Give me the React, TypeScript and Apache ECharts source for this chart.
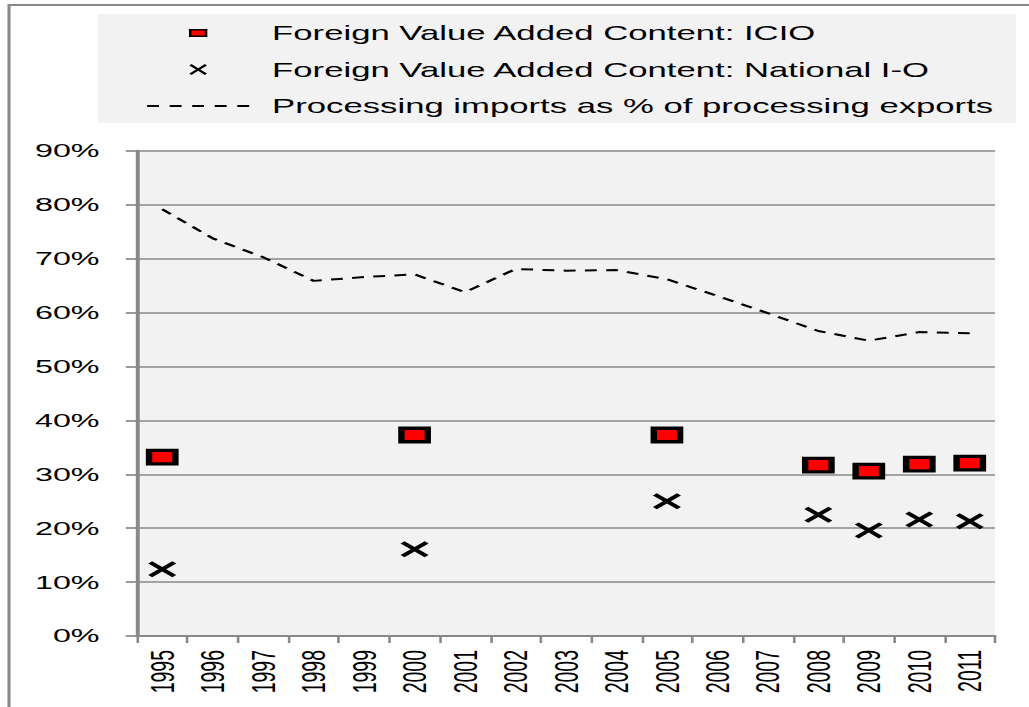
import React, { useEffect, useRef } from "react";
import * as echarts from "echarts";

const years = ["1995","1996","1997","1998","1999","2000","2001","2002","2003","2004","2005","2006","2007","2008","2009","2010","2011"];
const icioValues: (number | null)[] = [33.2, null, null, null, null, 37.3, null, null, null, null, 37.3, null, null, 31.7, 30.6, 31.9, 32.1];
const nationalValues: (number | null)[] = [12.4, null, null, null, null, 16.1, null, null, null, null, 25.0, null, null, 22.5, 19.6, 21.6, 21.3];
const processingValues: number[] = [79.2, 73.8, 70.3, 65.9, 66.6, 67.1, 63.8, 68.1, 67.8, 67.9, 66.2, 63.1, 59.9, 56.6, 54.8, 56.4, 56.2];
const seriesNames = [
  "Foreign Value Added Content: ICIO",
  "Foreign Value Added Content: National I-O",
  "Processing imports as % of processing exports",
];

const BASE_W = 605;
const H = 707;
const K = 1029 / BASE_W;
const FONT = "'Liberation Sans', Arial, sans-serif";

const CROSS = "path://M0,14 L14,0 L50,36 L86,0 L100,14 L64,50 L100,86 L86,100 L50,64 L14,100 L0,86 L36,50 Z";
const CROSS_LEG = "path://M0,14 L12,0 L50,42 L88,0 L100,14 L62,53 L100,92 L88,106 L50,64 L12,106 L0,92 L38,53 Z";
const SQUARE_LEG = "path://M4.5,0 M0,2.2 L9.3,2.2 L9.3,8.8 L0,8.8 Z M4.5,11";
const DASH_LEG = "path://M0,0h7v2h-7z M13.25,0h7v2h-7z M26.5,0h7v2h-7z M39.75,0h7v2h-7z M53,0h7v2h-7z";

const toPairs = (vals: (number | null)[]) =>
  vals.map((v, i) => (v == null ? null : [years[i], v])).filter((d) => d !== null);

export default function App() {
  const ref = useRef<HTMLDivElement>(null);
  useEffect(() => {
    if (!ref.current) return;
    const chart = echarts.init(ref.current, undefined, { renderer: "svg" });
    const grey = "#888888";
    chart.setOption({
      animation: false,
      backgroundColor: "#ffffff",
      textStyle: { fontFamily: FONT },
      graphic: [
        {
          type: "rect",
          z: -10,
          shape: { x: 5.3, y: 5, width: 800, height: 900 },
          style: { fill: "none", stroke: grey, lineWidth: 1.8 },
          silent: true,
        },
        {
          type: "rect",
          z: -5,
          shape: { x: 57.6, y: 14, width: 539.8, height: 109 },
          style: { fill: "#f2f2f2" },
          silent: true,
        },
      ],
      legend: {
        orient: "vertical",
        left: 86.5,
        top: 23,
        padding: 0,
        itemWidth: 60,
        itemHeight: 11,
        itemGap: 16.5,
        symbolKeepAspect: true,
        selectedMode: false,
        textStyle: {
          fontFamily: FONT,
          fontSize: 20.4,
          color: "#000",
          lineHeight: 20,
          padding: [0, 0, 0, 8.5],
        },
        data: [
          { name: seriesNames[0], icon: SQUARE_LEG, itemStyle: { color: "#ff0000", borderColor: "#000", borderWidth: 1.5 } },
          { name: seriesNames[1], icon: CROSS_LEG, itemStyle: { color: "#000", borderWidth: 0 } },
          { name: seriesNames[2], icon: DASH_LEG, itemStyle: { color: "#000", borderWidth: 0 } },
        ],
      },
      grid: {
        left: 80.55,
        right: 20,
        top: 151,
        bottom: 71,
        show: true,
        backgroundColor: "#f2f2f2",
        borderWidth: 0,
      },
      xAxis: {
        type: "category",
        data: years,
        boundaryGap: true,
        axisLine: { show: true, lineStyle: { color: grey, width: 2 } },
        axisTick: { show: true, interval: 0, length: 7, lineStyle: { color: grey, width: 1.5 } },
        axisLabel: {
          interval: 0,
          rotate: 90,
          margin: 14,
          fontFamily: FONT,
          fontSize: 19.5,
          color: "#000",
        },
        splitLine: { show: false },
      },
      yAxis: {
        type: "value",
        min: 0,
        max: 90,
        interval: 10,
        axisLine: { show: true, lineStyle: { color: grey, width: 2.3 } },
        axisTick: { show: true, length: 6.6, lineStyle: { color: grey, width: 1.7 } },
        axisLabel: {
          formatter: "{value}%",
          margin: 22,
          fontFamily: FONT,
          fontSize: 19,
          color: "#000",
        },
        splitLine: { show: true, lineStyle: { color: grey, width: 1.7 } },
      },
      series: [
        {
          name: seriesNames[2],
          type: "line",
          data: processingValues,
          symbol: "none",
          silent: true,
          z: 2,
          lineStyle: { color: "#000", width: 2, type: [7, 5.5] },
          itemStyle: { color: "#000" },
        },
        {
          name: seriesNames[0],
          type: "scatter",
          data: toPairs(icioValues),
          symbol: "rect",
          symbolSize: [15.5, 13.5],
          silent: true,
          z: 4,
          itemStyle: { color: "#ff0000", borderColor: "#000", borderWidth: 3.5, opacity: 1 },
        },
        {
          name: seriesNames[1],
          type: "scatter",
          data: toPairs(nationalValues),
          symbol: CROSS,
          symbolSize: [16.5, 16],
          silent: true,
          z: 3,
          itemStyle: { color: "#000", opacity: 1 },
        },
      ],
    });
    return () => chart.dispose();
  }, []);
  return (
    <div
      ref={ref}
      style={{
        position: "fixed",
        left: 0,
        top: 0,
        width: BASE_W,
        height: H,
        transform: `scaleX(${K})`,
        transformOrigin: "0 0",
      }}
    />
  );
}
